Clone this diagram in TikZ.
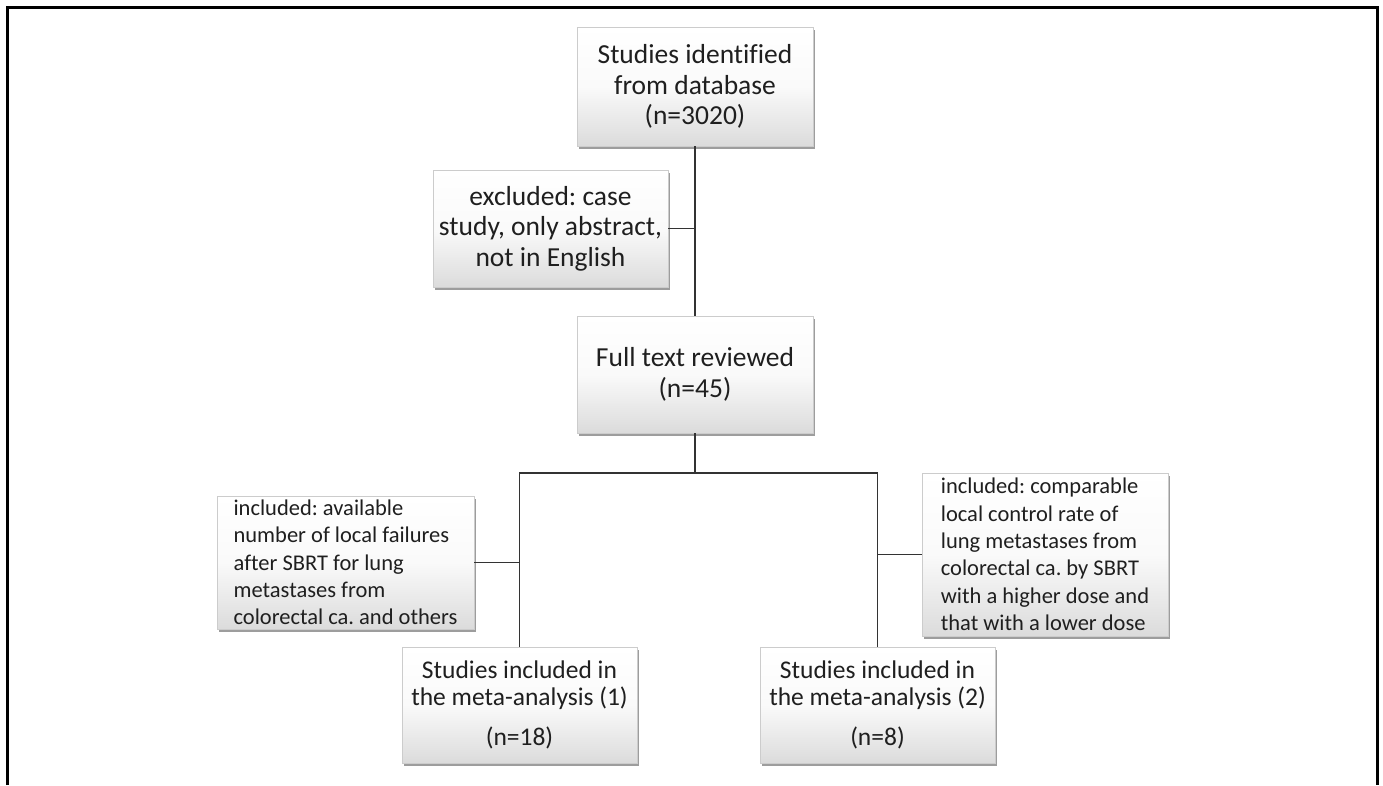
\documentclass[tikz,border=0pt]{standalone}
\usepackage{fontspec}
\setmainfont{Carlito}[Ligatures = NoCommon]
\usetikzlibrary{shadows}
\frenchspacing

\begin{document}
\begin{tikzpicture}[x = 1pt, y = -1pt]
	\tikzstyle{boxStyle}=[shape = rectangle, draw = black!20, line width = 0.8pt, top color = white, bottom color = black!14, middle color = black!2, text = black!88, inner sep = 0pt, align = center, drop shadow = {shadow xshift = 1.5pt, shadow yshift = -3pt, fill = black!55, opacity = 0.7}]
	\tikzstyle{mainStyle}=[boxStyle, font = \fontsize{27.5}{30.5}\selectfont]
	\tikzstyle{metaStyle}=[boxStyle, font = \fontsize{25.5}{27}\selectfont]
	\tikzstyle{leftStyle}=[boxStyle, align = left, font = \fontsize{22.5}{27.3}\selectfont]
	\tikzstyle{lineStyle}=[draw = black!80, line width = 1.6pt]
	\useasboundingbox (0,0) rectangle (1383,785);
	\draw[line width = 3pt] (7,785) -- (7,7) -- (1377,7) -- (1377,785);
	\node[mainStyle, minimum width = 236pt, minimum height = 119pt] (b0) at (695,86.5) {Studies identified\\from database\\(n=3020)};
	\node[mainStyle, minimum width = 235pt, minimum height = 117pt] (b1) at (550.5,228.5) {excluded: case\\study, only abstract,\\not in English};
	\node[mainStyle, minimum width = 236pt, minimum height = 117pt] (b2) at (695,374.5) {Full text reviewed\\(n=45)};
	\node[leftStyle, minimum width = 257pt, minimum height = 133pt] (b3) at (345.5,562.5) {included: available\\number of local failures\\after SBRT for lung\\metastases from\\colorectal ca. and others};
	\node[leftStyle, minimum width = 246pt, minimum height = 163pt] (b4) at (1045,554.5) {included: comparable\\local control rate of\\lung metastases from\\colorectal ca. by SBRT\\with a higher dose and\\that with a lower dose};
	\node[metaStyle, minimum width = 235pt, minimum height = 116pt] (b5) at (519.5,705) {Studies included in\\the meta-analysis (1)\\[13pt](n=18)};
	\node[metaStyle, minimum width = 235pt, minimum height = 116pt] (b6) at (877.5,705) {Studies included in\\the meta-analysis (2)\\[13pt](n=8)};
	\coordinate (c0) at (695,473);
	\draw[lineStyle] (b0) -- (b2);
	\draw[lineStyle] (b1.east) -- (b1.east -| b0.south);
	\draw[lineStyle] (b2) -- (c0);
	\draw[lineStyle] (b5.north) -- (b5.north |- c0) -- (b6.north |- c0) -- (b6.north);
	\draw[lineStyle] (b3.east) -- (b3.east -| b5.north);
	\draw[lineStyle] (b4.west) -- (b4.west -| b6.north);
\end{tikzpicture}
\end{document}
